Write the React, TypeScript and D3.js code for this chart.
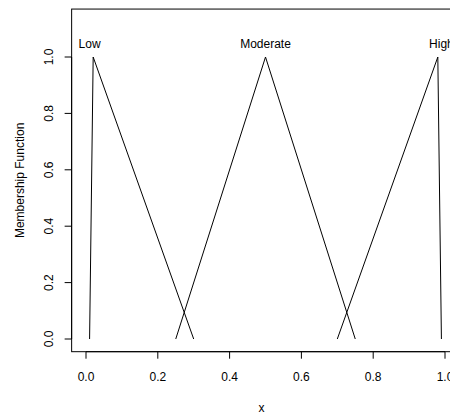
import { useEffect, useRef } from 'react';
import * as d3 from 'd3';

// membership function breakpoints (x, membership)
const lowX = [0.01, 0.02, 0.3];
const lowY = [0, 1, 0];
const moderateX = [0.25, 0.5, 0.75];
const moderateY = [0, 1, 0];
const highX = [0.7, 0.98, 0.99];
const highY = [0, 1, 0];

const labels = ['Low', 'Moderate', 'High'];
const labelX = [0.01, 0.5, 0.99];
const labelY = 1.05;

const xTicks = [0, 0.2, 0.4, 0.6, 0.8, 1.0];
const yTicks = [0, 0.2, 0.4, 0.6, 0.8, 1.0];

export default function App() {
    const ref = useRef<SVGSVGElement>(null);

    useEffect(() => {
        document.body.style.margin = '0';
        const font = 'Liberation Sans, Arial, sans-serif';

        const svg = d3.select(ref.current);
        svg.selectAll('*').remove();

        // R-style usr extents (4% padding)
        const x = d3.scaleLinear().domain([0, 1]).range([86, 445]);
        const y = d3.scaleLinear().domain([0, 1]).range([339, 57]);
        const x0 = x(-0.04), x1 = x(1.04);
        const y0 = y(-0.045), y1 = y(1.17);

        svg.append('rect')
            .attr('x', x0)
            .attr('y', y1)
            .attr('width', x1 - x0)
            .attr('height', y0 - y1)
            .attr('fill', 'none')
            .attr('stroke', '#000')
            .attr('stroke-width', 1);

        // x axis
        const gx = svg.append('g');
        gx.append('line')
            .attr('x1', x(0)).attr('x2', x(1))
            .attr('y1', y0).attr('y2', y0)
            .attr('stroke', '#000');
        xTicks.forEach(t => {
            gx.append('line')
                .attr('x1', x(t)).attr('x2', x(t))
                .attr('y1', y0).attr('y2', y0 + 7)
                .attr('stroke', '#000');
            gx.append('text')
                .attr('x', x(t))
                .attr('y', 381)
                .attr('text-anchor', 'middle')
                .attr('font-family', font)
                .attr('font-size', 12)
                .text(d3.format('.1f')(t));
        });

        // y axis
        const gy = svg.append('g');
        gy.append('line')
            .attr('x1', x0).attr('x2', x0)
            .attr('y1', y(0)).attr('y2', y(1))
            .attr('stroke', '#000');
        yTicks.forEach(t => {
            gy.append('line')
                .attr('x1', x0 - 7).attr('x2', x0)
                .attr('y1', y(t)).attr('y2', y(t))
                .attr('stroke', '#000');
            gy.append('text')
                .attr('transform', `translate(53,${y(t)}) rotate(-90)`)
                .attr('text-anchor', 'middle')
                .attr('font-family', font)
                .attr('font-size', 12)
                .text(d3.format('.1f')(t));
        });

        svg.append('text')
            .attr('x', (x0 + x1) / 2 - 4)
            .attr('y', 412)
            .attr('text-anchor', 'middle')
            .attr('font-family', font)
            .attr('font-size', 12)
            .text('x');

        svg.append('text')
            .attr('transform', `translate(24,${(y0 + y1) / 2}) rotate(-90)`)
            .attr('text-anchor', 'middle')
            .attr('font-family', font)
            .attr('font-size', 12)
            .text('Membership Function');

        const line = d3.line<[number, number]>()
            .x(d => x(d[0]))
            .y(d => y(d[1]));

        const series = [
            lowX.map((v, i) => [v, lowY[i]] as [number, number]),
            moderateX.map((v, i) => [v, moderateY[i]] as [number, number]),
            highX.map((v, i) => [v, highY[i]] as [number, number]),
        ];
        series.forEach(s => {
            svg.append('path')
                .datum(s)
                .attr('fill', 'none')
                .attr('stroke', '#000')
                .attr('stroke-width', 1)
                .attr('d', line);
        });

        labels.forEach((l, i) => {
            svg.append('text')
                .attr('x', x(labelX[i]))
                .attr('y', y(labelY) + 5)
                .attr('text-anchor', 'middle')
                .attr('font-family', font)
                .attr('font-size', 12)
                .text(l);
        });
    }, []);

    return <svg ref={ref} width={450} height={414} style={{ display: 'block', background: '#fff' }} />;
}
